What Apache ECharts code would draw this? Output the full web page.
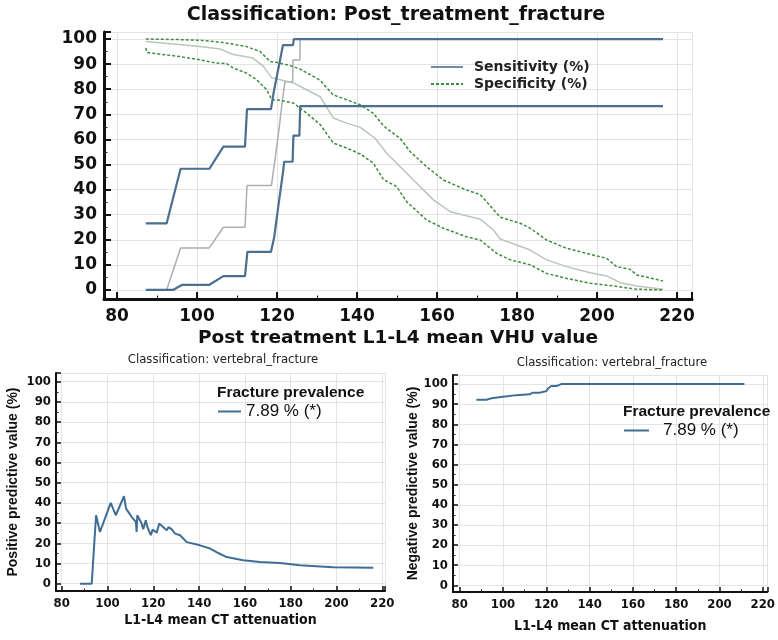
<!DOCTYPE html>
<html>
<head>
<meta charset="utf-8">
<script src="https://cdn.jsdelivr.net/npm/echarts@6.0.0/dist/echarts.min.js"></script>
<style>
  html, body { margin: 0; padding: 0; background: #fff; }
  #main { width: 778px; height: 640px; }
</style>
</head>
<body>
<div id="main"></div>
<script>
// ---- top panel: sensitivity / specificity with confidence bounds ----
const sensUpper = [[87.2,26.5],[92.4,26.5],[95.9,48.3],[103.1,48.3],[106.6,57.1],[112,57.1],[112.5,72.1],[118.5,72.1],[119.2,79],[121.5,97.6],[124,97.6],[124.2,100],[216.5,100]];
const sensLower = [[87.2,0],[94,0],[96.2,2],[103,2],[106.6,5.5],[112,5.5],[112.6,15.2],[118.5,15.2],[119.3,21],[120.3,33],[121.5,47],[121.8,51.1],[123.9,51.1],[124.1,61.5],[125.6,61.5],[125.8,73.3],[216.5,73.3]];
const sensEst = [[87.2,0],[92.4,0],[95.9,16.7],[103,16.7],[106.6,25],[112,25],[112.5,41.6],[118.6,41.6],[119.5,52],[120.5,64],[121.3,75],[122,83],[123.9,83],[124,91.6],[125.7,91.6],[125.8,100],[216.5,100]];
const specUpper = [[87.2,100],[95,99.8],[100.8,99.5],[106.6,98.6],[112.4,97],[115.8,95],[118.3,91],[119.9,90.7],[123.3,89.4],[125.8,88],[128.3,85.8],[130.8,83.5],[134,77.8],[137.4,75.8],[140.8,73.8],[144,70.5],[146.6,65.5],[147.4,64.4],[150.8,60.4],[153.3,55.1],[157.4,49.1],[161.6,43.8],[167.4,39.8],[170.8,38],[173.3,33.5],[175.8,29],[180.8,26.6],[183.3,24.6],[187.4,19.9],[192.4,16.6],[197.4,14.6],[202.4,12.6],[204.9,9.3],[208.3,8.2],[209.9,6],[216.5,3.6]];
const specLower = [[87.2,96.4],[87.5,94.6],[95.8,93],[100.8,91.7],[104.9,90.4],[107.4,90.2],[109.1,88.4],[112.4,86.4],[114.9,83.8],[117.4,79.8],[118.7,75.8],[120.8,75.6],[124.1,74.5],[127.4,70.5],[130.8,65.9],[134.1,58.5],[137.4,56.6],[140.8,54.2],[144.1,50.5],[146.6,44],[149.9,41.2],[152.4,35.2],[157.4,27.9],[161.6,24.6],[167.4,21.2],[170.8,19.9],[174.9,14.6],[178.3,12],[183.3,10],[187.4,6.6],[192.4,4.6],[198.3,2.7],[204.1,1.6],[209.9,0.3],[216.5,0]];
const specEst = [[87.2,99],[100.8,97],[105.8,96],[109.1,93.8],[114,92.4],[116.6,89.1],[118.7,84.5],[120.8,83.8],[124.1,82.5],[127.4,79.8],[130.8,77],[134.1,68.5],[137.4,66.5],[140.8,64.8],[144.5,60.5],[147.4,54.5],[150.8,49.1],[154.1,43.8],[159.1,35.9],[163.3,31.2],[170.8,28.2],[174.1,23.9],[175.8,20.3],[183.3,15.9],[187.4,12],[192.4,9.3],[198.3,6.9],[202.4,5.6],[205.8,2.9],[209.9,1.6],[216.5,0.3]];

// ---- bottom panels: predictive values ----
const ppv = [[88,0],[93.1,0],[95,33.9],[96.7,25.6],[101.4,40],[103.6,33.9],[107.2,43.3],[108.1,37.2],[110.6,33],[112.4,30.6],[112.7,25.6],[113,33.9],[114.9,29.8],[115.6,27],[116.7,31.4],[117.4,28.1],[118.9,24],[119.7,26.8],[121.5,25.3],[122.6,29.8],[124.4,28],[125.9,26.4],[126.6,28],[128,27],[129.5,24.8],[131.7,24],[134.6,20.6],[140.4,19],[144.8,17.4],[148.4,15.2],[152,13.2],[159.3,11.6],[166.6,10.7],[175.3,10.2],[184,9.1],[198.6,8.2],[216.1,7.9]];
const npv = [[87.7,92.2],[92.3,92.2],[94.6,92.9],[100,93.7],[106.2,94.5],[112.3,94.9],[113.8,95.7],[116.9,95.7],[117.7,96.5],[120,96.5],[120.8,97.8],[122.3,99],[124.6,99],[126.9,100],[211.5,100]];

const prevalenceLabel = '7.89 % (*)';

const BOLD = 'DejaVu Sans';
const NARROW = '"Liberation Sans Narrow", "DejaVu Sans Condensed", "Roboto Condensed", "Liberation Sans", sans-serif';
const ARIAL = '"Liberation Sans", Arial, sans-serif';

// 共通の軸設定
function axis(o) {
  return {
    type: 'value',
    gridIndex: o.grid,
    min: o.min,
    max: o.max,
    splitNumber: o.split,
    axisLine: { show: true, onZero: false, lineStyle: { color: '#111', width: o.lw } },
    axisTick: { show: true, inside: true, length: o.tl, lineStyle: { color: '#111', width: o.tw } },
    minorTick: { show: true, splitNumber: 2, length: o.tl / 2, lineStyle: { color: '#222', width: 1 } },
    axisLabel: {
      showMinLabel: false,
      showMaxLabel: false,
      formatter: v => (Math.abs(v % o.step) < 1e-6 ? String(Math.round(v)) : ''),
      color: '#111',
      fontFamily: o.font,
      fontWeight: o.weight,
      fontSize: o.fs,
      margin: o.margin
    },
    splitLine: { show: true, lineStyle: { color: '#e4e4e4', width: 1 } },
    name: o.name,
    nameLocation: 'middle',
    nameGap: o.nameGap,
    nameTextStyle: o.nameStyle
  };
}

function line(name, data, xi, color, width, dashed, z) {
  return {
    type: 'line', name, data, xAxisIndex: xi, yAxisIndex: xi,
    symbol: 'none', z: z || 2,
    lineStyle: { color, width, type: dashed ? [3, 2] : 'solid' },
    itemStyle: { color }
  };
}

const noSymbol = { opacity: 0 };

const chart = echarts.init(document.getElementById('main'));
chart.setOption({
  animation: false,
  backgroundColor: '#fff',
  title: [
    { text: 'Classification: Post_treatment_fracture', left: 396, top: 6, textAlign: 'center', padding: 0,
      textStyle: { fontFamily: BOLD, fontWeight: 'bold', fontSize: 19, color: '#111' } },
    { text: 'Classification: vertebral_fracture', left: 223, top: 353, textAlign: 'center', padding: 0,
      textStyle: { fontFamily: NARROW, fontWeight: 'normal', fontSize: 13, color: '#222' } },
    { text: 'Classification: vertebral_fracture', left: 612, top: 356, textAlign: 'center', padding: 0,
      textStyle: { fontFamily: NARROW, fontWeight: 'normal', fontSize: 13, color: '#222' } },
    { text: 'Fracture prevalence', left: 217, top: 385, padding: 0,
      textStyle: { fontFamily: ARIAL, fontWeight: 'bold', fontSize: 15.5, color: '#111' } },
    { text: 'Fracture prevalence', left: 623, top: 404, padding: 0,
      textStyle: { fontFamily: ARIAL, fontWeight: 'bold', fontSize: 15.5, color: '#111' } }
  ],
  legend: [
    { data: [{ name: 'Sensitivity (%)', lineStyle: { color: '#6f8dab', width: 2 }, itemStyle: noSymbol },
             { name: 'Specificity (%)', itemStyle: noSymbol }],
      orient: 'vertical', left: 430, top: 59, padding: 0, itemWidth: 32, itemHeight: 10, itemGap: 1,
      textStyle: { fontFamily: BOLD, fontWeight: 'bold', fontSize: 14, lineHeight: 16, color: '#222', padding: [0, 0, 0, 6] } },
    { data: [{ name: prevalenceLabel, itemStyle: noSymbol }], left: 217, top: 403, padding: 0, itemWidth: 23, itemHeight: 10,
      textStyle: { fontFamily: ARIAL, fontSize: 17, color: '#111' } },
    { data: [{ name: prevalenceLabel, itemStyle: noSymbol }], left: 623, top: 422, padding: 0, itemWidth: 25, itemHeight: 10,
      textStyle: { fontFamily: ARIAL, fontSize: 17, color: '#111', padding: [0, 0, 0, 9] } }
  ],
  grid: [
    { left: 104, right: 86, top: 32, bottom: 341 },
    { left: 56, right: 393, top: 373, bottom: 49 },
    { left: 453, right: 10, top: 375, bottom: 48 }
  ],
  xAxis: [
    axis({ grid: 0, min: 76.75, max: 223.75, split: 7, step: 20, lw: 3, tl: 7, tw: 2, font: BOLD, weight: 'bold', fs: 17, margin: 9,
      name: 'Post treatment L1-L4 mean VHU value', nameGap: 30,
      nameStyle: { fontFamily: BOLD, fontWeight: 'bold', fontSize: 18.5, color: '#111' } }),
    axis({ grid: 1, min: 77.5, max: 221.2, split: 7, step: 20, lw: 2, tl: 5, tw: 1.5, font: NARROW, weight: 'bold', fs: 13, margin: 6,
      name: 'L1-L4 mean CT attenuation', nameGap: 22,
      nameStyle: { fontFamily: NARROW, fontWeight: 'bold', fontSize: 14, color: '#111' } }),
    axis({ grid: 2, min: 76.9, max: 222.1, split: 7, step: 20, lw: 2, tl: 5, tw: 1.5, font: NARROW, weight: 'bold', fs: 13, margin: 6,
      name: 'L1-L4 mean CT attenuation', nameGap: 27,
      nameStyle: { fontFamily: NARROW, fontWeight: 'bold', fontSize: 14, color: '#111' } })
  ],
  yAxis: [
    axis({ grid: 0, min: -3.6, max: 102.8, split: 10, step: 10, lw: 3, tl: 7, tw: 2, font: BOLD, weight: 'bold', fs: 17, margin: 7 }),
    axis({ grid: 1, min: -3.6, max: 104.3, split: 10, step: 10, lw: 2, tl: 5, tw: 1.5, font: NARROW, weight: 'bold', fs: 13, margin: 5,
      name: 'Positive predictive value (%)', nameGap: 36,
      nameStyle: { fontFamily: ARIAL, fontWeight: 'bold', fontSize: 14, color: '#111' } }),
    axis({ grid: 2, min: -3.3, max: 104.5, split: 10, step: 10, lw: 2, tl: 5, tw: 1.5, font: NARROW, weight: 'bold', fs: 13, margin: 5,
      name: 'Negative predictive value (%)', nameGap: 29,
      nameStyle: { fontFamily: ARIAL, fontWeight: 'bold', fontSize: 14, color: '#111' } })
  ],
  series: [
    line('sens-est', sensEst, 0, '#a9afb5', 1.5, false, 2),
    line('spec-est', specEst, 0, '#b9c6b9', 1.5, false, 2),
    line('Specificity (%)', specUpper, 0, '#3f8c3f', 1.5, true, 3),
    line('Specificity (%)', specLower, 0, '#3f8c3f', 1.5, true, 3),
    line('Sensitivity (%)', sensUpper, 0, '#4b6f8f', 2.2, false, 4),
    line('Sensitivity (%)', sensLower, 0, '#4b6f8f', 2.2, false, 4),
    line(prevalenceLabel, ppv, 1, '#3f6d96', 2, false, 4),
    line(prevalenceLabel, npv, 2, '#3f6d96', 2, false, 4)
  ]
});
</script>
</body>
</html>
